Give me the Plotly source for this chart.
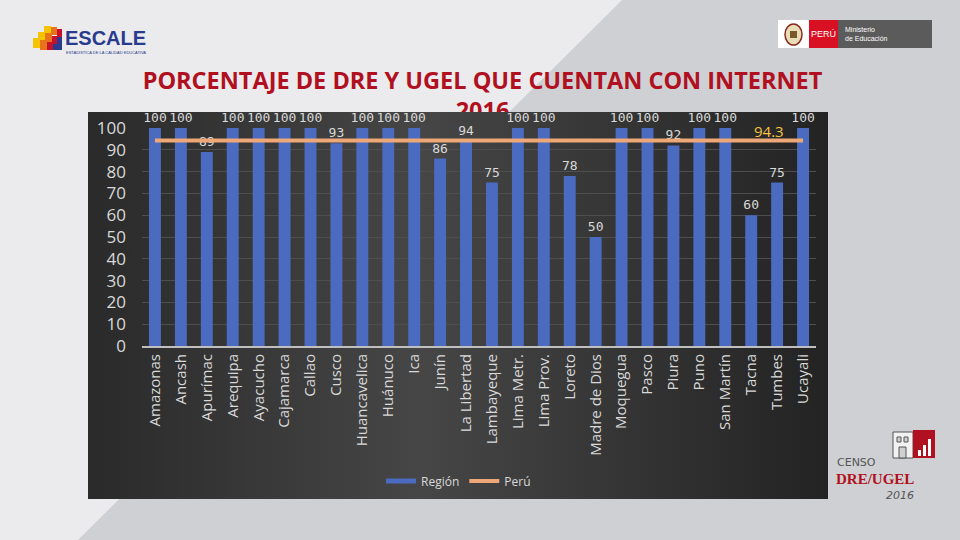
import plotly.graph_objects as go

# data
regiones = ["Amazonas", "Ancash", "Apurímac", "Arequipa", "Ayacucho", "Cajamarca",
            "Callao", "Cusco", "Huancavelica", "Huánuco", "Ica", "Junín",
            "La Libertad", "Lambayeque", "Lima Metr.", "Lima Prov.", "Loreto",
            "Madre de Dios", "Moquegua", "Pasco", "Piura", "Puno", "San Martín",
            "Tacna", "Tumbes", "Ucayali"]
region_pct = [100, 100, 89, 100, 100, 100, 100, 93, 100, 100, 100, 86, 94, 75,
              100, 100, 78, 50, 100, 100, 92, 100, 100, 60, 75, 100]
peru_pct = 94.3
y_ticks = [0, 10, 20, 30, 40, 50, 60, 70, 80, 90, 100]

W, H = 960, 540
LABEL = "#D9D9D9"
RED = "#B01020"


def fx(x):
    return x / W


def fy(y):
    return 1 - y / H


def rect(x0, y0, x1, y1, color, line=None):
    return dict(type="rect", xref="paper", yref="paper",
                x0=fx(x0), x1=fx(x1), y0=fy(y1), y1=fy(y0),
                fillcolor=color, line=dict(width=0 if line is None else 1,
                                           color=line or color),
                layer="below")


fig = go.Figure()

# title (second line sits partly behind the chart box, so it is a trace drawn first)
fig.add_trace(go.Scatter(
    x=[0.5026], y=[0.5], mode="text",
    text=["<b>PORCENTAJE DE DRE Y UGEL QUE CUENTAN CON INTERNET</b><br><b>2016</b>"],
    textfont=dict(family="Open Sans", size=23.5, color=RED),
    textposition="middle center", cliponaxis=False, hoverinfo="skip",
    showlegend=False, xaxis="x", yaxis="y"))

# dark chart box
fig.add_trace(go.Scatter(
    x=[0, 1, 1, 0, 0], y=[0, 0, 1, 1, 0], mode="lines", fill="toself",
    line=dict(width=0), fillcolor="#383838",
    fillgradient=dict(type="horizontal",
                      colorscale=[[0, "#2a2a2a"], [0.45, "#464646"], [1, "#232323"]]),
    hoverinfo="skip", showlegend=False, xaxis="x2", yaxis="y2"))

# bars
fig.add_trace(go.Bar(
    x=regiones, y=region_pct, marker=dict(color="#4A6BC0", line=dict(width=0)),
    text=region_pct, textposition="outside", constraintext="none", cliponaxis=False,
    textfont=dict(family="DejaVu Sans Mono", size=13, color=LABEL),
    showlegend=False, hoverinfo="x+y", xaxis="x3", yaxis="y3"))

# legend entry for the bars, drawn as a line swatch
fig.add_trace(go.Scatter(
    x=[None], y=[None], mode="lines", name="Región",
    line=dict(color="#4A6BC0", width=5), legendrank=1, xaxis="x3", yaxis="y3"))

# national average line
fig.add_trace(go.Scatter(
    x=regiones, y=[peru_pct] * len(regiones), mode="lines", name="Perú",
    line=dict(color="#EEA878", width=4), legendrank=2, xaxis="x3", yaxis="y3"))

fig.add_annotation(x=regiones[-2], y=peru_pct, xref="x3", yref="y3",
                   text=f"{peru_pct}", showarrow=False, xshift=-8, yshift=9,
                   font=dict(family="Open Sans", size=15, color="#F5C242"))

shapes = [
    # slide background diagonal
    dict(type="path", xref="paper", yref="paper", layer="below",
         path=f"M {fx(622)},{fy(0)} L 1,{fy(0)} L 1,0 L {fx(78)},0 Z",
         fillcolor="#CFD0D4", line=dict(width=0)),
    # ESCALE blocks
    rect(33, 38, 40, 48, "#F5C400"), rect(38, 32, 45, 40, "#F5C400"),
    rect(44, 26, 51, 33, "#F5C400"),
    rect(40, 40, 47, 50, "#E8731A"), rect(45, 33, 52, 42, "#E8731A"),
    rect(51, 27, 57, 35, "#E8731A"),
    rect(47, 42, 53, 50, "#C8102E"), rect(52, 36, 57, 44, "#C8102E"),
    rect(57, 29, 62, 37, "#C8102E"),
    rect(53, 44, 62, 50, "#2A3B8F"), rect(57, 37, 62, 44, "#2A3B8F"),
    # Ministerio logo
    rect(778, 20, 809, 48, "#FFFFFF"),
    dict(type="circle", xref="paper", yref="paper", layer="below",
         x0=fx(785), x1=fx(802), y0=fy(45), y1=fy(24),
         fillcolor="#E9DDB8", line=dict(color="#8A2A1E", width=1.5)),
    rect(790, 31, 797, 38, "#7A5A2A"),
    rect(809, 20, 838, 48, "#D91023"),
    rect(838, 20, 932, 48, "#5B5B5B"),
    # CENSO DRE/UGEL logo
    rect(893, 432, 913, 458, "#F2F2F2", line="#555555"),
    rect(897, 437, 901, 442, "#D0D0D0", line="#555555"),
    rect(904, 437, 908, 442, "#D0D0D0", line="#555555"),
    rect(899, 447, 906, 458, "#D0D0D0", line="#555555"),
    rect(913, 430, 935, 458, "#B01020"),
    rect(918, 450, 921, 456, "#FFFFFF"),
    rect(923, 445, 926, 456, "#FFFFFF"),
    rect(928, 439, 931, 456, "#FFFFFF"),
]

annotations = [
    dict(x=fx(63), y=fy(38), xref="paper", yref="paper", xanchor="left",
         yanchor="middle", showarrow=False, text="<b>ESCALE</b>",
         font=dict(family="Liberation Sans", size=20, color="#2A3B8F")),
    dict(x=fx(64), y=fy(53), xref="paper", yref="paper", xanchor="left",
         yanchor="middle", showarrow=False, text="ESTADÍSTICA DE LA CALIDAD EDUCATIVA",
         font=dict(family="Liberation Sans", size=4, color="#2A3B8F")),
    dict(x=fx(823.5), y=fy(34), xref="paper", yref="paper", xanchor="center",
         yanchor="middle", showarrow=False, text="PERÚ",
         font=dict(family="Liberation Sans", size=9, color="#FFFFFF")),
    dict(x=fx(843), y=fy(34), xref="paper", yref="paper", xanchor="left",
         yanchor="middle", showarrow=False, text="Ministerio<br>de Educación",
         align="left", font=dict(family="Liberation Sans", size=7, color="#FFFFFF")),
    dict(x=fx(835), y=fy(462), xref="paper", yref="paper", xanchor="left",
         yanchor="middle", showarrow=False, text="CENSO",
         font=dict(family="DejaVu Sans", size=11, color="#555555")),
    dict(x=fx(834), y=fy(479), xref="paper", yref="paper", xanchor="left",
         yanchor="middle", showarrow=False, text="<b>DRE/UGEL</b>",
         font=dict(family="Liberation Serif", size=15, color=RED)),
    dict(x=fx(916), y=fy(495), xref="paper", yref="paper", xanchor="right",
         yanchor="middle", showarrow=False, text="<i>2016</i>",
         font=dict(family="DejaVu Sans", size=11, color="#555555")),
]

fig.update_layout(
    width=W, height=H, margin=dict(l=0, r=0, t=0, b=0, autoexpand=False),
    paper_bgcolor="#EBEBED", plot_bgcolor="rgba(0,0,0,0)",
    bargap=0.54, shapes=shapes,
    xaxis=dict(domain=[0, 1], range=[0, 1], visible=False, fixedrange=True,
               automargin=False),
    yaxis=dict(domain=[0.7685, 0.8685], range=[0, 1], visible=False,
               fixedrange=True, automargin=False),
    xaxis2=dict(domain=[fx(88), fx(828)], range=[0, 1], visible=False,
                fixedrange=True, anchor="y2", automargin=False),
    yaxis2=dict(domain=[1 - 499 / H, 1 - 112 / H], range=[0, 1], visible=False,
                fixedrange=True, anchor="x2", automargin=False),
    xaxis3=dict(domain=[fx(142), fx(816)], anchor="y3", type="category",
                tickangle=-90, ticks="", showgrid=False, showline=True,
                linecolor="#BFBFBF", linewidth=2, automargin=False,
                tickfont=dict(family="Open Sans", size=15, color=LABEL)),
    yaxis3=dict(domain=[1 - 346 / H, 1 - 128 / H], anchor="x3", range=[0, 100],
                tickvals=y_ticks, ticks="", showline=False, zeroline=False,
                gridcolor="#4E4E4E", gridwidth=1, ticklabelstandoff=15,
                automargin=False,
                tickfont=dict(family="Open Sans", size=17, color=LABEL)),
    legend=dict(orientation="h", x=fx(381), y=fy(481), xanchor="left",
                yanchor="middle", bgcolor="rgba(0,0,0,0)",
                font=dict(family="Open Sans", size=12, color=LABEL)),
)

for a in annotations:
    fig.add_annotation(a)

fig.write_html("out.html", config={"responsive": False, "displayModeBar": False},
               post_script="document.body.style.margin='0px';"
                           "document.body.style.overflow='hidden';")
